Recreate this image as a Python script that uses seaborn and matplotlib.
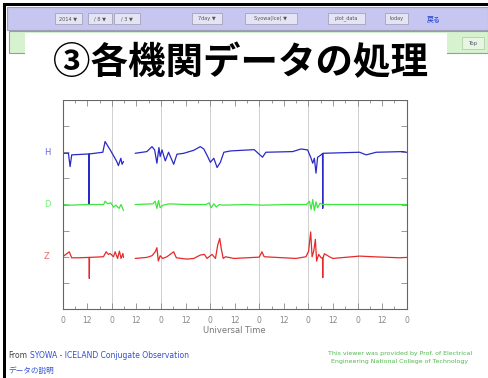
import pandas as pd
import seaborn as sns
import matplotlib.pyplot as plt
from matplotlib.patches import Rectangle

# magnetometer traces, hours since 2014/08/03 00UT, deviation in nT
H_hours = [0, 2.8, 3.6, 4.4, 12.8, 12.9, 13.0, 19.6, 20.7, 21.9, 23.2, 24.8, 26.4, 27.2, 28.4, 29.0, 29.7,
           35.4, 41.1, 43.6, 44.9, 46.0, 47.0, 47.6, 48.5, 50.1, 51.7, 54.2, 55.8, 59.1, 64.0,
           67.2, 68.9, 70.8, 72.1, 73.8, 75.4, 77.0, 78.7, 81.9, 93.5, 97.6, 99.2,
           112.3, 116.4, 119.6, 121.3, 122.1, 122.9, 123.7, 124.5, 125.7, 126.9, 127.0, 127.1, 145.0, 148.2, 153.1, 166.2, 168]
H_nT = [-8, -8, -110, -20, -13, -400, -13, 0, 82, 51, 18, -26, -71, -102, -46, -92, -71,
        -8, 5, 43, 18, -84, 36, -33, 18, -66, 0, -92, -15, -8, 15,
        43, 25, -33, -77, -46, -117, -77, 0, 10, 20, -38, 0,
        5, 25, 18, -46, -84, -46, -160, -38, -26, -10, -430, -8, 0, -20, 0, 5, 0]

D_hours = [0, 4.0, 13.0, 20.0, 20.7, 22.0, 23.5, 24.8, 26.0, 27.5, 28.5, 29.7,
           35.4, 44.0, 45.2, 46.0, 46.8, 47.6, 49.0, 52.0, 60.0, 70.0, 71.5, 72.5, 73.8, 75.0, 76.5, 78.0,
           90.0, 97.6, 110.0, 119.0, 120.5, 121.3, 122.1, 122.9, 123.7, 124.5, 125.7, 127.0, 168]
D_nT = [0, -5, 0, 0, 25, 5, 13, -20, -5, -30, 0, -46,
        0, 5, 25, -30, 30, -25, -5, 5, 0, 0, 13, -25, 5, -20, 0, -5,
        0, -5, 0, 0, 25, -38, 38, -46, 20, -25, 10, 0, 0]

Z_hours = [0, 3.2, 4.4, 7.6, 12.9, 13.0, 13.1, 19.9, 21.2, 22.3, 23.2, 24.8, 25.6, 26.8, 27.7, 28.5, 29.4, 29.7,
           35.4, 41.1, 43.6, 45.2, 46.0, 46.7, 47.6, 48.8, 50.9, 54.2, 55.5, 60.7, 64.0, 67.2, 69.2, 70.5,
           72.9, 74.6, 75.7, 76.7, 77.4, 78.4, 79.5, 83.6,
           96.0, 97.3, 98.4, 113.9, 118.8, 120.1, 121.1, 121.8, 122.6, 123.4, 124.0, 125.0, 126.2,
           126.9, 127.0, 127.1, 127.8, 130.3, 131.9, 145.0, 151.5, 164.5, 168]
Z_nT = [0, 38, -8, -8, -5, -166, -5, 0, 38, 18, 25, 0, 38, -13, 43, -13, 25, -5,
        -13, -5, 8, 38, 69, -33, 8, -13, 0, 38, -8, -18, -13, 13, 18, -13,
        18, -13, 89, 140, 64, -13, 0, -13,
        -3, 38, 0, -13, 0, 43, 190, 0, 43, 133, -33, 18, -8,
        -10, -160, -10, 23, 0, -13, 5, 0, -8, -5]

components = ['H', 'D', 'Z']
offsets = {'H': 6, 'D': 4, 'Z': 2}
colors = {'H': '#2a2ac8', 'D': '#3ee63e', 'Z': '#e62a2a'}
NT_PER_DIV = 200
GAP_END = 32  # data missing between ~30 and ~35 UT hours

tick_hours = list(range(0, 169, 12))
tick_labels = ['0' if h % 24 == 0 else '12' for h in tick_hours]

frames = []
for comp, hrs, vals in [('H', H_hours, H_nT), ('D', D_hours, D_nT), ('Z', Z_hours, Z_nT)]:
    d = pd.DataFrame({'hour': hrs, 'nT': vals})
    d['component'] = comp
    d['segment'] = (d['hour'] > GAP_END).astype(int)
    d['level'] = offsets[comp] + d['nT'] / NT_PER_DIV
    frames.append(d)
df = pd.concat(frames, ignore_index=True)

sns.set_style('ticks')
plt.rcParams['font.family'] = ['DejaVu Sans', 'Noto Sans CJK JP']

W, H = 488, 378
fig = plt.figure(figsize=(W / 100, H / 100), dpi=100)


def box(x0, y0, x1, y1, **kw):
    fig.add_artist(Rectangle((x0 / W, 1 - y1 / H), (x1 - x0) / W, (y1 - y0) / H,
                             transform=fig.transFigure, **kw))


def ftext(x, y, s, **kw):
    fig.text(x / W, 1 - y / H, s, **kw)


# page frame and header bars
box(3, 3, 488, 6, color='black', lw=0)
box(3, 3, 6, 378, color='black', lw=0)
box(7, 7, 488, 30, facecolor='#c6c6f0', edgecolor='#a0a0b8', lw=0.8)
box(9, 31, 488, 53, facecolor='#d6f2ce', edgecolor='#9c9c9c', lw=0.8)
box(25, 33, 447, 100, facecolor='white', lw=0)

widgets = [(55, 82, '2014 ▼'), (88, 112, '/ 8 ▼'), (114, 140, '/ 3 ▼'), (192, 222, '7day ▼'),
           (245, 297, 'Syowa(Ice) ▼'), (328, 365, 'plot_data'), (385, 408, 'today')]
for x0, x1, s in widgets:
    box(x0, 13, x1, 24, facecolor='#e4e4f4', edgecolor='#9a9ab0', lw=0.5)
    ftext((x0 + x1) / 2, 18.5, s, fontsize=3.6, color='#555', ha='center', va='center')
ftext(434, 18.5, '戻る', fontsize=5, color='#2040d0', ha='center', va='center')
box(462, 37, 484, 49, facecolor='#e6f6e0', edgecolor='#a8c8a0', lw=0.5)
ftext(473, 43, 'Top', fontsize=4, color='#557', ha='center', va='center')

ftext(241, 63, '③各機関データの処理', fontsize=27, fontweight='bold', color='black',
      ha='center', va='center', family=['Noto Sans CJK JP', 'DejaVu Sans'])

# plot
ax = fig.add_axes([62.7 / W, 1 - 309 / H, 344 / W, 209 / H])
for d in range(24, 168, 24):
    ax.axvline(d, color='#cfcfcf', lw=0.7, zorder=0)
sns.lineplot(data=df, x='hour', y='level', hue='component', palette=colors, units='segment',
             estimator=None, sort=False, lw=0.9, legend=False, ax=ax)

ax.set_xlim(0, 168)
ax.set_ylim(0, 8)
ax.set_xticks(tick_hours)
ax.set_xticklabels(tick_labels)
ax.set_xticks(range(0, 169, 6), minor=True)
ax.set_yticks(range(1, 8))
ax.set_yticklabels([])
ax.tick_params(axis='both', which='both', direction='in', top=True, right=True,
               colors='#888', labelcolor='#888', labelsize=5.5, width=0.6)
ax.tick_params(which='major', length=4, pad=5)
ax.tick_params(which='minor', length=2.5)
for sp in ax.spines.values():
    sp.set_color('#666')
    sp.set_linewidth(0.8)
ax.set_xlabel('Universal Time', fontsize=6, color='#777', labelpad=1)
ax.set_ylabel('')

for comp in components:
    ax.text(-0.046, offsets[comp], comp, transform=ax.get_yaxis_transform(),
            fontsize=6, color=colors[comp], alpha=0.7, ha='center', va='center')
ax.text(0.0, 1.003, '2014/08/03', transform=ax.transAxes, fontsize=6, color='#888', ha='left', va='bottom')
ax.text(0.5, 1.003, '(200nT/div)', transform=ax.transAxes, fontsize=6, color='#888', ha='center', va='bottom')
ax.text(1.0, 1.003, '2014/08/09', transform=ax.transAxes, fontsize=6, color='#888', ha='right', va='bottom')

# footer
ftext(8, 356, 'From', fontsize=5.5, color='#444', va='center')
ftext(30, 356, 'SYOWA - ICELAND Conjugate Observation', fontsize=5.5, color='#3050d0', va='center')
box(30, 359.5, 232, 360, color='#3050d0', lw=0)
ftext(8, 370, 'データの説明', fontsize=5.5, color='#3050d0', va='center')
box(8, 373.5, 68, 374, color='#3050d0', lw=0)
ftext(400, 354, 'This viewer was provided by Prof. of Electrical', fontsize=4.5, color='#50b850',
      ha='center', va='center')
ftext(400, 362, 'Engineering National College of Technology', fontsize=4.5, color='#50b850',
      ha='center', va='center')

fig.savefig('out.png', dpi=100)
